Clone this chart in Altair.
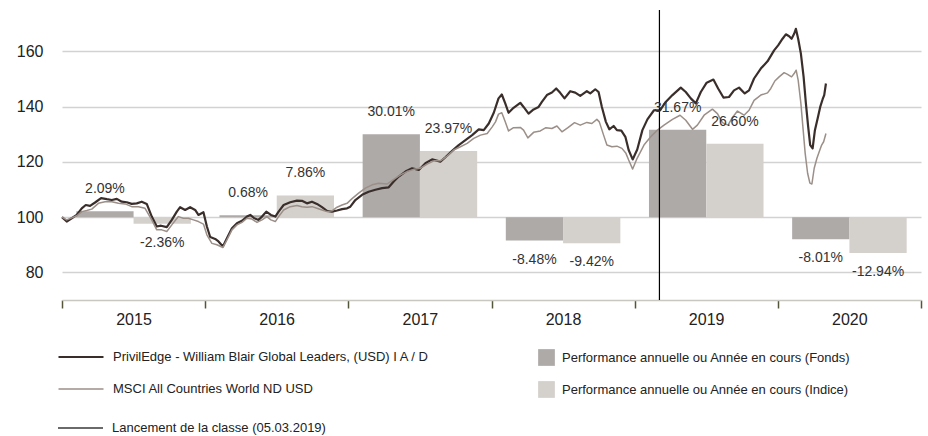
import altair as alt
import pandas as pd

# ---------------- data ----------------
FUND = "PrivilEdge - William Blair Global Leaders, (USD) I A / D"
INDEX = "MSCI All Countries World ND USD"
BAR_F = "Performance annuelle ou Année en cours (Fonds)"
BAR_I = "Performance annuelle ou Année en cours (Indice)"
LAUNCH = "Lancement de la classe (05.03.2019)"

# time in years since 01.01.2015
fund_t = [0, 0.033, 0.068, 0.103, 0.138, 0.166, 0.196, 0.231, 0.273, 0.313,
          0.348, 0.383, 0.417, 0.452, 0.487, 0.522, 0.557, 0.592, 0.627, 0.662,
          0.692, 0.732, 0.767, 0.802, 0.825, 0.860, 0.895, 0.930, 0.953, 0.988,
          1.012, 1.035, 1.070, 1.093, 1.124, 1.152, 1.187, 1.222, 1.257, 1.292,
          1.315, 1.343, 1.373, 1.397, 1.427, 1.459, 1.490, 1.513, 1.548, 1.594,
          1.641, 1.676, 1.711, 1.746, 1.781, 1.816, 1.851, 1.886, 1.921, 1.956,
          1.991, 2.014, 2.049, 2.096, 2.142, 2.189, 2.236, 2.282, 2.317, 2.352,
          2.399, 2.445, 2.492, 2.538, 2.585, 2.643, 2.678, 2.725, 2.771, 2.818,
          2.865, 2.911, 2.946, 2.981, 3.016, 3.049, 3.072, 3.096, 3.119, 3.154,
          3.201, 3.224, 3.259, 3.294, 3.329, 3.352, 3.387, 3.422, 3.452, 3.480,
          3.510, 3.550, 3.585, 3.620, 3.666, 3.690, 3.725, 3.748, 3.771, 3.799,
          3.823, 3.853, 3.876, 3.907, 3.935, 3.958, 3.986, 4.018, 4.054, 4.089,
          4.135, 4.177, 4.217, 4.264, 4.322, 4.357, 4.392, 4.427, 4.462, 4.503,
          4.550, 4.583, 4.620, 4.659, 4.694, 4.729, 4.769, 4.799, 4.834, 4.881,
          4.928, 4.974, 5.002, 5.033, 5.056, 5.079, 5.096, 5.114, 5.126, 5.142,
          5.161, 5.180, 5.196, 5.212, 5.226, 5.243, 5.259, 5.278, 5.296, 5.313,
          5.324, 5.336]
fund_v = [100, 98.4, 99.6, 100.8, 103.2, 104.4, 104.1, 105.3, 106.9, 106.5,
          106.2, 106.6, 105.6, 105.4, 104.8, 105.0, 105.6, 104.8, 100.2, 96.6,
          96.9, 96.4, 99.0, 102.0, 103.6, 102.6, 103.6, 102.6, 100.8, 101.8,
          96.6, 92.8, 92.1, 91.2, 89.4, 92.4, 96.0, 97.8, 98.7, 100.2,
          100.8, 99.6, 99.0, 100.2, 102.0, 100.8, 100.2, 102.0, 104.4, 105.4,
          106.0, 105.9, 105.0, 105.6, 104.8, 103.6, 102.3, 102.0, 102.4, 102.9,
          103.2, 103.8, 106.2, 108.1, 109.2, 109.9, 110.5, 110.8, 112.9, 114.7,
          116.5, 117.7, 117.1, 119.5, 120.9, 120.1, 121.7, 124.0, 126.1, 127.9,
          129.7, 131.8, 131.5, 133.9, 137.8, 143.0, 144.4, 141.2, 137.8, 139.6,
          141.4, 139.9, 137.5, 139.0, 139.9, 141.7, 144.2, 145.1, 146.6, 145.0,
          143.0, 145.6, 145.1, 143.9, 145.6, 144.8, 146.3, 145.3, 139.9, 134.5,
          131.8, 133.0, 131.5, 131.3, 129.1, 124.3, 120.9, 124.5, 131.5, 135.4,
          138.7, 138.7, 141.7, 144.2, 146.9, 145.3, 143.0, 141.2, 145.3, 148.7,
          149.8, 146.6, 143.3, 143.5, 145.9, 146.9, 144.8, 145.9, 150.2, 153.8,
          156.4, 160.4, 162.2, 164.6, 166.2, 165.5, 164.6, 166.4, 168.2, 164.6,
          159.2, 150.8, 141.2, 132.7, 126.1, 124.9, 131.5, 135.7, 139.9, 142.7,
          144.2, 148.4]

index_t = [0, 0.033, 0.103, 0.138, 0.173, 0.208, 0.254, 0.301, 0.348, 0.394,
           0.441, 0.487, 0.534, 0.580, 0.627, 0.662, 0.697, 0.732, 0.767, 0.813,
           0.848, 0.883, 0.918, 0.953, 0.988, 1.012, 1.047, 1.082, 1.124, 1.152,
           1.187, 1.222, 1.257, 1.292, 1.327, 1.362, 1.397, 1.431, 1.459, 1.490,
           1.513, 1.548, 1.594, 1.641, 1.676, 1.711, 1.746, 1.781, 1.816, 1.851,
           1.886, 1.921, 1.956, 1.991, 2.026, 2.072, 2.119, 2.166, 2.212, 2.271,
           2.317, 2.364, 2.410, 2.457, 2.503, 2.550, 2.597, 2.643, 2.690, 2.736,
           2.783, 2.830, 2.876, 2.923, 2.970, 3.005, 3.028, 3.049, 3.072, 3.096,
           3.119, 3.154, 3.201, 3.224, 3.254, 3.294, 3.341, 3.380, 3.422, 3.457,
           3.492, 3.534, 3.580, 3.620, 3.666, 3.701, 3.736, 3.753, 3.783, 3.806,
           3.841, 3.876, 3.911, 3.939, 3.958, 3.986, 4.017, 4.065, 4.112, 4.159,
           4.205, 4.264, 4.317, 4.357, 4.404, 4.438, 4.485, 4.543, 4.578, 4.613,
           4.652, 4.683, 4.718, 4.764, 4.799, 4.834, 4.881, 4.928, 4.951, 4.979,
           5.009, 5.044, 5.068, 5.096, 5.114, 5.128, 5.142, 5.161, 5.177, 5.191,
           5.208, 5.224, 5.238, 5.254, 5.273, 5.289, 5.306, 5.320, 5.336]
index_v = [100, 99.0, 100.5, 102.0, 102.4, 102.9, 105.0, 105.6, 105.6, 105.0,
           104.8, 103.8, 103.8, 103.2, 99.0, 95.4, 95.4, 94.8, 97.2, 100.2,
           99.6, 99.6, 99.0, 98.4, 97.5, 93.6, 90.5, 90.0, 89.0, 91.8,
           95.4, 97.2, 98.1, 99.6, 99.3, 98.1, 99.0, 100.2, 99.0, 98.4,
           100.2, 102.6, 103.8, 104.2, 103.8, 103.6, 103.8, 103.2, 102.6, 102.0,
           102.3, 103.6, 104.4, 105.0, 106.7, 108.7, 110.5, 111.7, 112.3, 112.0,
           113.7, 115.3, 116.5, 117.3, 117.7, 119.2, 120.4, 120.4, 122.1, 124.3,
           125.5, 126.7, 128.5, 129.7, 130.3, 132.7, 134.5, 137.3, 137.8, 134.5,
           131.2, 132.4, 132.5, 131.5, 128.7, 130.7, 131.2, 132.4, 132.1, 133.0,
           130.9, 132.4, 134.2, 133.3, 134.3, 133.9, 135.4, 134.5, 129.7, 126.1,
           125.5, 125.7, 124.9, 123.1, 120.7, 117.4, 121.3, 126.1, 129.1, 131.5,
           133.3, 135.4, 136.9, 135.1, 131.8, 133.3, 136.9, 139.1, 137.5, 134.2,
           133.3, 136.1, 138.4, 136.9, 138.7, 142.3, 144.2, 145.0, 146.6, 149.3,
           150.8, 152.3, 151.7, 150.8, 152.0, 153.2, 149.6, 141.2, 131.5, 123.1,
           115.9, 112.3, 112.0, 117.7, 121.3, 123.7, 126.1, 127.3, 130.3]

years = [2015, 2016, 2017, 2018, 2019, 2020]
perf_fund = [2.09, 0.68, 30.01, -8.48, 31.67, -8.01]
perf_index = [-2.36, 7.86, 23.97, -9.42, 26.60, -12.94]
launch_t = 4.173  # 05.03.2019

# ---------------- tables ----------------
lines_df = pd.concat([
    pd.DataFrame({"t": [2015 + v for v in fund_t], "v": fund_v, "series": FUND}),
    pd.DataFrame({"t": [2015 + v for v in index_t], "v": index_v, "series": INDEX}),
])
bars_df = pd.concat([
    pd.DataFrame({"year": years, "perf": perf_fund, "series": BAR_F, "k": 0}),
    pd.DataFrame({"year": years, "perf": perf_index, "series": BAR_I, "k": 1}),
])
bars_df["label"] = [f"{p:.2f}%" for p in bars_df["perf"]]
launch_df = pd.DataFrame({"t": [2015 + launch_t], "series": [LAUNCH]})

NUM_FONT = "Liberation Sans"
TXT_FONT = "Liberation Sans"
TXT_SIZE = 13

x_scale = alt.Scale(domain=[2015, 2021], nice=False, zero=False)
y_scale = alt.Scale(domain=[70, 175], nice=False, zero=False)

x_axis = alt.Axis(
    values=[2015, 2016, 2017, 2018, 2019, 2020, 2021], format="d",
    labelExpr="datum.value >= 2021 ? '' : datum.label",
    labelOffset=71.5, labelFlush=False, labelFontSize=16, labelFont=NUM_FONT,
    labelColor="#222222", labelPadding=3, tickSize=8, tickWidth=1.5,
    tickColor="#55553a", domainColor="#c8c8c0", domainWidth=1.5,
    grid=False, title=None,
)
y_axis = alt.Axis(
    values=[80, 100, 120, 140, 160], grid=True, gridColor="#d2d2d2",
    gridWidth=1.5, domain=False, ticks=False, labelFontSize=16,
    labelFont=NUM_FONT, labelColor="#222222", labelPadding=19, title=None,
)

base_bars = alt.Chart(bars_df).transform_calculate(
    x0="datum.year + 0.1 + 0.4 * datum.k",
    x1="datum.year + 0.5 + 0.4 * datum.k",
    xc="datum.year + 0.3 + 0.4 * datum.k",
    top="100 + datum.perf",
    base="100",
)

bars = base_bars.mark_rect().encode(
    x=alt.X("x0:Q", scale=x_scale, axis=x_axis),
    x2="x1:Q",
    y=alt.Y("top:Q", scale=y_scale, axis=y_axis),
    y2="base:Q",
    fill=alt.Fill(
        "series:N",
        scale=alt.Scale(domain=[BAR_F, BAR_I], range=["#aeaaa8", "#d4d0cc"]),
        legend=alt.Legend(
            title=None, orient="none", legendX=476, legendY=339,
            symbolType="square", symbolSize=280, symbolStrokeWidth=0,
            symbolOpacity=1, rowPadding=15, labelOffset=7,
            labelFontSize=TXT_SIZE, labelFont=TXT_FONT, labelColor="#222222",
            labelLimit=600, padding=0,
        ),
    ),
)

lines = alt.Chart(lines_df).mark_line(strokeJoin="round").encode(
    x=alt.X("t:Q", scale=x_scale, axis=x_axis),
    y=alt.Y("v:Q", scale=y_scale, axis=y_axis),
    stroke=alt.Stroke(
        "series:N",
        scale=alt.Scale(domain=[FUND, INDEX], range=["#3a2e2b", "#9b8f88"]),
        legend=alt.Legend(
            title=None, orient="none", legendX=-5, legendY=339,
            symbolType="stroke", symbolSize=2025, symbolStrokeWidth=2.5,
            clipHeight=16, rowPadding=16, labelOffset=8,
            labelFontSize=TXT_SIZE, labelFont=TXT_FONT, labelColor="#222222",
            labelLimit=600, padding=0,
        ),
    ),
    strokeWidth=alt.StrokeWidth(
        "series:N",
        scale=alt.Scale(domain=[FUND, INDEX], range=[2.2, 1.5]),
        legend=None,
    ),
)

rule = alt.Chart(launch_df).mark_rule(color="#000000", strokeWidth=1.2).encode(
    x=alt.X("t:Q", scale=x_scale, axis=x_axis),
    strokeDash=alt.StrokeDash(
        "series:N",
        scale=alt.Scale(domain=[LAUNCH], range=[[1, 0]]),
        legend=alt.Legend(
            title=None, orient="none", legendX=-5, legendY=410,
            symbolType="stroke", symbolSize=2025, symbolStrokeWidth=1.5,
            symbolStrokeColor="#3a3a3a", clipHeight=16, labelOffset=8,
            labelFontSize=TXT_SIZE, labelFont=TXT_FONT, labelColor="#222222",
            labelLimit=600, padding=0,
        ),
    ),
)

text_common = dict(font=NUM_FONT, fontSize=14, color="#333333", align="center",
                   baseline="alphabetic")
labels_pos = base_bars.transform_filter("datum.perf >= 0").mark_text(
    dy=-18, **text_common
).encode(x=alt.X("xc:Q", scale=x_scale, axis=x_axis),
         y=alt.Y("top:Q", scale=y_scale, axis=y_axis), text="label:N")
labels_neg = base_bars.transform_filter("datum.perf < 0").mark_text(
    dy=23, **text_common
).encode(x=alt.X("xc:Q", scale=x_scale, axis=x_axis),
         y=alt.Y("top:Q", scale=y_scale, axis=y_axis), text="label:N")

chart = alt.layer(bars, lines, rule, labels_pos, labels_neg).properties(
    width=859, height=290,
    autosize=alt.AutoSizeParams(type="none"),
    padding={"left": 62, "top": 10, "right": 7, "bottom": 136},
    background="white",
).configure_view(stroke=None)

chart.save("out.html", embed_options={"renderer": "svg", "actions": False})
